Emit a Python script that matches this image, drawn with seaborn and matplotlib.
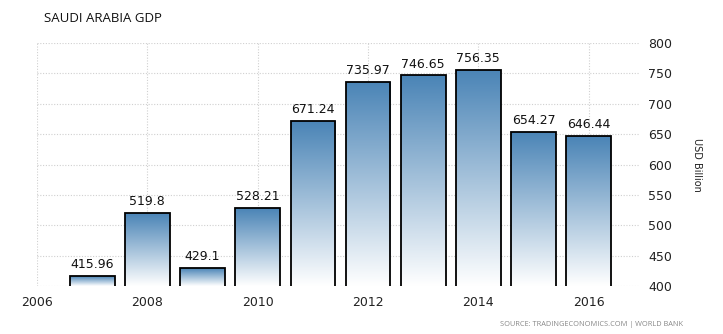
import numpy as np
import pandas as pd
import matplotlib
matplotlib.use("Agg")
import matplotlib.pyplot as plt
import seaborn as sns
from matplotlib.colors import LinearSegmentedColormap

years = [2007, 2008, 2009, 2010, 2011, 2012, 2013, 2014, 2015, 2016]
gdp = [415.96, 519.8, 429.1, 528.21, 671.24, 735.97, 746.65, 756.35, 654.27, 646.44]
labels = ["415.96", "519.8", "429.1", "528.21", "671.24", "735.97", "746.65", "756.35", "654.27", "646.44"]
xticks = [2006, 2008, 2010, 2012, 2014, 2016]
yticks = [400, 450, 500, 550, 600, 650, 700, 750, 800]

sns.set_style("white")
plt.rcParams['font.family'] = ['DejaVu Sans']

W, H = 723, 334
fig = plt.figure(figsize=(W / 100, H / 100), dpi=100)
ax = fig.add_axes([37 / W, 1 - 286 / H, (640 - 37) / W, (286 - 43) / H])

df = pd.DataFrame({"year": years, "gdp": gdp})
sns.barplot(data=df, x="year", y="gdp", native_scale=True, ax=ax,
            color="#4682B4", edgecolor="black", linewidth=1.3, width=0.81, zorder=3)

ax.set_xlim(2006, 2016.93)
ax.set_ylim(400, 800)

cmap = LinearSegmentedColormap.from_list("g", ["#ffffff", "#4a84b6"])
grad = np.linspace(0, 1, 256).reshape(-1, 1)
for p in ax.patches:
    x0, y0 = p.get_x(), p.get_y()
    w, h = p.get_width(), p.get_height()
    y0 = max(y0, 400)
    top = p.get_y() + h
    p.set_facecolor("none")
    im = ax.imshow(grad, cmap=cmap, origin="lower", aspect="auto",
                   extent=[x0, x0 + w, y0, top], zorder=2.5,
                   interpolation="bilinear")
    im.set_clip_path(p)
ax.set_xlim(2006, 2016.93)
ax.set_ylim(400, 800)

for yr, v, lab in zip(years, gdp, labels):
    ax.text(yr, v + 8, lab, ha="center", va="bottom", fontsize=9, color="#111111", zorder=4)

ax.set_xticks(xticks)
ax.set_xticklabels([str(t) for t in xticks])
ax.set_yticks(yticks)
ax.yaxis.tick_right()
ax.tick_params(axis="y", length=0, labelsize=9, colors="#222222", pad=6)
ax.tick_params(axis="x", length=3, width=0.6, color="#bbbbbb", labelsize=9, colors="#222222", pad=4)
ax.grid(True, linestyle=(0, (1, 1.5)), color="#d0d0d0", linewidth=0.8, zorder=0)
ax.set_axisbelow(True)
for s in ax.spines.values():
    s.set_visible(False)
ax.set_xlabel("")
ax.set_ylabel("")

fig.text(697 / W, 1 - 165 / H, "USD Billion", rotation=270, ha="center", va="center",
         fontsize=7, color="#222222")
fig.text(44 / W, 1 - 18 / H, "SAUDI ARABIA GDP", ha="left", va="center",
         fontsize=9.5, color="#111111", family=["Open Sans", "DejaVu Sans"])
fig.text(683 / W, 1 - 325 / H, "SOURCE: TRADINGECONOMICS.COM | WORLD BANK", ha="right",
         va="center", fontsize=5.3, color="#888888", family=["Open Sans", "DejaVu Sans"])

fig.savefig("out.png", dpi=100)
